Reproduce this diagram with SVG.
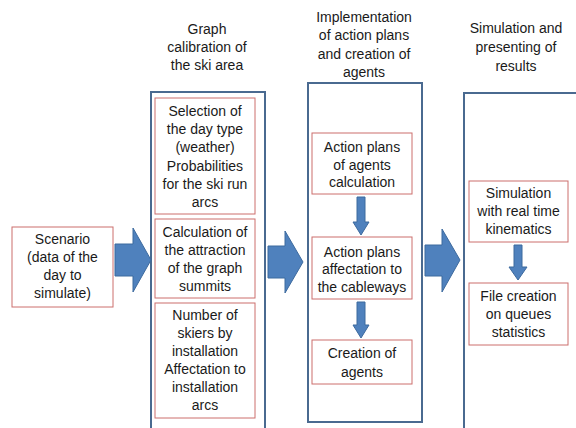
<svg xmlns="http://www.w3.org/2000/svg" width="576" height="428" viewBox="0 0 576 428">
<style>
text{font-family:"Liberation Sans",Arial,sans-serif;font-size:14px;fill:#1a1a1a;text-anchor:middle}
.outer{fill:#ffffff;stroke:#4A6A90;stroke-width:2}
.inner{fill:#ffffff;stroke:#CC6E6C;stroke-width:1}
.arrow{fill:#4F81BD;stroke:#3D6A9E;stroke-width:1}
</style>
<rect x="0" y="0" width="576" height="428" fill="#ffffff"/>
<g id="headings">
<text x="207" y="34">Graph</text>
<text x="207" y="52">calibration of</text>
<text x="207" y="70">the ski area</text>
<text x="364" y="22">Implementation</text>
<text x="364" y="40.3">of action plans</text>
<text x="364" y="58.6">and creation of</text>
<text x="364" y="77">agents</text>
<text x="516" y="33">Simulation and</text>
<text x="516" y="52">presenting of</text>
<text x="516" y="71">results</text>
</g>
<g id="col1">
<rect class="outer" x="151" y="92" width="114" height="345"/>
</g>
<g id="col2">
<rect class="outer" x="308" y="83" width="114" height="339"/>
</g>
<g id="col3">
<rect class="outer" x="464" y="93" width="130" height="345"/>
</g>
<g id="scenario">
<rect class="inner" x="12" y="227" width="101" height="80"/>
<text x="62.5" y="244">Scenario</text>
<text x="62.5" y="262">(data of the</text>
<text x="62.5" y="280">day to</text>
<text x="62.5" y="298">simulate)</text>
</g>
<g id="selection">
<rect class="inner" x="155" y="98" width="100" height="116"/>
<text x="205" y="116">Selection of</text>
<text x="205" y="134.2">the day type</text>
<text x="205" y="152.4">(weather)</text>
<text x="205" y="170.6">Probabilities</text>
<text x="205" y="188.8">for the ski run</text>
<text x="205" y="207">arcs</text>
</g>
<g id="attraction">
<rect class="inner" x="155" y="219" width="100" height="79"/>
<text x="205" y="237">Calculation of</text>
<text x="205" y="255">the attraction</text>
<text x="205" y="273">of the graph</text>
<text x="205" y="291">summits</text>
</g>
<g id="skiers">
<rect class="inner" x="155" y="303" width="100" height="115"/>
<text x="205" y="320">Number of</text>
<text x="205" y="338">skiers by</text>
<text x="205" y="356">installation</text>
<text x="205" y="374">Affectation to</text>
<text x="205" y="392">installation</text>
<text x="205" y="410">arcs</text>
</g>
<g id="actionplans">
<rect class="inner" x="312" y="133" width="100" height="61"/>
<text x="362" y="152">Action plans</text>
<text x="362" y="170">of agents</text>
<text x="362" y="187">calculation</text>
</g>
<g id="affectation">
<rect class="inner" x="312" y="237" width="100" height="62"/>
<text x="362" y="257">Action plans</text>
<text x="362" y="274">affectation to</text>
<text x="362" y="292">the cableways</text>
</g>
<g id="creation">
<rect class="inner" x="312" y="340" width="100" height="44"/>
<text x="362" y="358">Creation of</text>
<text x="362" y="377">agents</text>
</g>
<g id="simulation">
<rect class="inner" x="469" y="181" width="99" height="61"/>
<text x="518.5" y="198">Simulation</text>
<text x="518.5" y="216">with real time</text>
<text x="518.5" y="234">kinematics</text>
</g>
<g id="filecreation">
<rect class="inner" x="469" y="283" width="99" height="62"/>
<text x="518.5" y="301">File creation</text>
<text x="518.5" y="319">on queues</text>
<text x="518.5" y="337">statistics</text>
</g>
<g id="connectors">
<polygon class="arrow" points="115,244 133,244 133,228 151,260 133,292 133,276 115,276"/>
<polygon class="arrow" points="268,246 285,246 285,231 303,262 285,293 285,278 268,278"/>
<polygon class="arrow" points="425,245 442,245 442,229 460,260 442,292 442,276 425,276"/>
<polygon class="arrow" points="357,197 365,197 365,222 369,222 361,235 353,222 357,222"/>
<polygon class="arrow" points="357,302 365,302 365,325 369,325 361,338 353,325 357,325"/>
<polygon class="arrow" points="514,245 522,245 522,267 527,267 518,280 509,267 514,267"/>
</g>
</svg>
